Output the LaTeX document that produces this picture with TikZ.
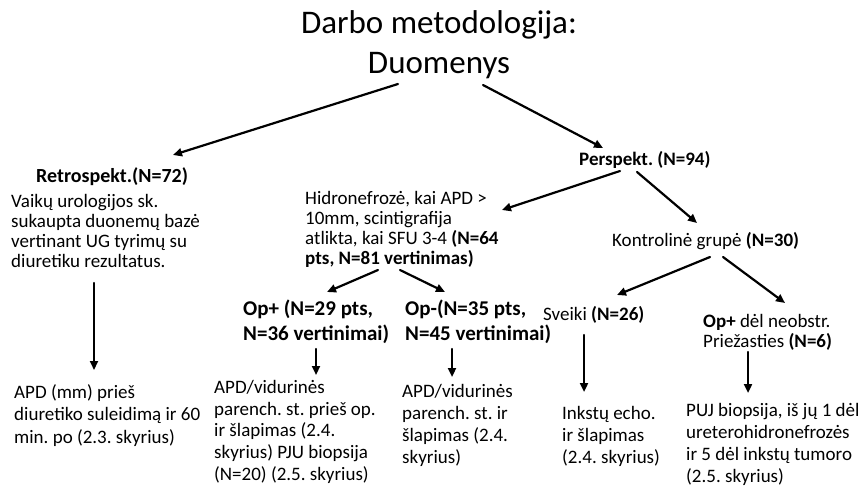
\documentclass[tikz,border=0pt]{standalone}
\usepackage{fontspec}
\setmainfont{Carlito}
\usepackage{tikz}
\usetikzlibrary{arrows.meta, positioning, calc}
\frenchspacing

\tikzset{
  txt/.style={anchor=base west, inner sep=0pt, align=left, font=\fontsize{19}{21}\selectfont},
  head/.style={txt, font=\fontsize{21}{25}\selectfont\bfseries},
  arr/.style={-{Triangle[length=9pt, width=8pt]}, line width=2.2pt, line cap=round}
}

\begin{document}
\begin{tikzpicture}[x=1pt, y=-1pt]
            \useasboundingbox (0,0) rectangle (861,487);

            % title (base of a block = base of its last line)
            \node (title) [anchor=base, inner sep=0pt, font=\fontsize{33}{40}\selectfont] at (439,34)
            {Darbo metodologija:};
            \node (duom) [anchor=base, inner sep=0pt, font=\fontsize{33}{40}\selectfont] at (439,73)
            {Duomenys};

            % left branch
            \node (retrohead) [head, font=\fontsize{20}{24}\selectfont\bfseries] at (36,182) {Retrospekt.(N=72)};
            \node (retro) [txt, font=\fontsize{19}{20}\selectfont] at (11,267)
            {Vaikų urologijos sk.\\ sukaupta duonemų  bazė\\ vertinant UG tyrimų su\\ diuretiku rezultatus.};
            \node (retroout) [txt, font=\fontsize{19}{22.5}\selectfont] at (14,443)
            {APD (mm) prieš\\ diuretiko suleidimą ir 60\\ min. po (2.3. skyrius)};

            % right branch
            \node (persp) [txt, font=\fontsize{19}{21}\selectfont\bfseries] at (579,165) {Perspekt. (N=94)};
            \node (hidro) [txt, font=\fontsize{19}{20}\selectfont] at (305,264)
            {Hidronefrozė, kai APD >\\ 10mm, scintigrafija\\ atlikta, kai SFU 3-4 \textbf{(N=64}\\ \textbf{pts, N=81 vertinimas)}};
            \node (kontr) [txt] at (612,246) {Kontrolinė grupė \textbf{(N=30)}};

            \node (opplus) [head] at (243,340) {Op+ (N=29 pts,\\ N=36 vertinimai)};
            \node (opminus) [head] at (405,340) {Op-(N=35 pts,\\ N=45 vertinimai)};
            \node (sveiki) [txt] at (543,320) {Sveiki \textbf{(N=26)}};
            \node (opneob) [txt, font=\fontsize{19}{20}\selectfont] at (703,347)
            {\textbf{Op+} dėl neobstr.\\ Priežasties \textbf{(N=6)}};

            \node (opplusout) [txt, font=\fontsize{19}{21.6}\selectfont] at (214,480)
            {APD/vidurinės\\ parench. st. prieš op.\\ ir šlapimas (2.4.\\ skyrius) PJU biopsija\\ (N=20) (2.5. skyrius)};
            \node (opminusout) [txt, font=\fontsize{19}{22}\selectfont] at (402,463)
            {APD/vidurinės\\ parench. st. ir\\ šlapimas (2.4.\\ skyrius)};
            \node (sveikiout) [txt, font=\fontsize{19}{22}\selectfont] at (562,463)
            {Inkstų echo.\\ ir šlapimas\\ (2.4. skyrius)};
            \node (opneobout) [txt, font=\fontsize{19}{22}\selectfont] at (686,482)
            {PUJ biopsija, iš jų 1 dėl\\ ureterohidronefrozės\\ ir 5 dėl inkstų tumoro\\ (2.5. skyrius)};

            % arrows
            \draw[arr] ([shift={(-41,11)}]duom.base) -- ([shift={(137,-27)}]retrohead.base west);
            \draw[arr] ([shift={(44,12)}]duom.base) -- ([shift={(24,-17)}]persp.base west);
            \draw[arr] ([shift={(83,16)}]retro.base west) -- ([shift={(80,-73)}]retroout.base west);

            \draw[arr] ([shift={(41,6)}]persp.base west) -- ([shift={(197,-54)}]hidro.base west);
            \draw[arr] ([shift={(58,7)}]persp.base west) -- ([shift={(85,-23)}]kontr.base west);

            \draw[arr] ([shift={(73,6)}]hidro.base west) -- ([shift={(84,-48)}]opplus.base west);
            \draw[arr] ([shift={(95,6)}]hidro.base west) -- ([shift={(40,-48)}]opminus.base west);
            \draw[arr] ([shift={(98,11)}]kontr.base west) -- ([shift={(74,-25)}]sveiki.base west);
            \draw[arr] ([shift={(111,11)}]kontr.base west) -- ([shift={(82,-44)}]opneob.base west);

            \draw[arr] ([shift={(73,9)}]opplus.base west) -- ([shift={(102,-105)}]opplusout.base west);
            \draw[arr] ([shift={(47,9)}]opminus.base west) -- ([shift={(50,-86)}]opminusout.base west);
            \draw[arr] ([shift={(41,15)}]sveiki.base west) -- ([shift={(22,-71)}]sveikiout.base west);
            \draw[arr] ([shift={(45,5)}]opneob.base west) -- ([shift={(62,-89)}]opneobout.base west);

        \end{tikzpicture}
\end{document}
